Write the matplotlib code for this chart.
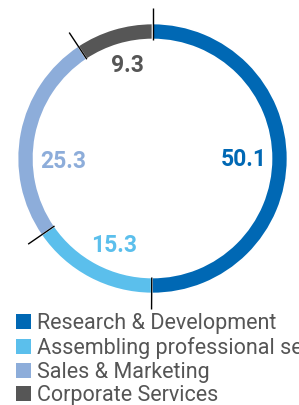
import numpy as np
import matplotlib
matplotlib.use("Agg")
import matplotlib.pyplot as plt
from matplotlib.patches import Patch

# Data
categories = ["Research & Development", "Assembling professional services",
              "Sales & Marketing", "Corporate Services"]
values = [50.1, 15.3, 25.3, 9.3]
colors = ["#0068b4", "#5bbfec", "#8dadda", "#565656"]

plt.rcParams["font.family"] = ["Roboto", "DejaVu Sans"]

W, H = 299, 405
fig = plt.figure(figsize=(W / 100, H / 100), dpi=100)
ax = fig.add_axes([0, 0, 1, 1])

cx, cy = 152.5, H - 158.5
r_out = 135
ring = 16

ax.pie(values, colors=colors, startangle=90, counterclock=False,
       center=(cx, cy), radius=r_out,
       wedgeprops=dict(width=ring, edgecolor="white", linewidth=1.2))

# boundary tick lines
bounds = 90 - 360 * np.cumsum([0] + values[:-1]) / sum(values)
for a in np.deg2rad(bounds):
    ax.plot([cx + 119 * np.cos(a), cx + 151 * np.cos(a)],
            [cy + 119 * np.sin(a), cy + 151 * np.sin(a)],
            color="black", lw=1.0, solid_capstyle="butt")

# value labels
label_pos = [(244, 160), (114, 246), (63, 162), (127, 65)]
for v, c, (x, y) in zip(values, colors, label_pos):
    ax.text(x, H - y, f"{v}", color=c, fontsize=16.5, fontweight="bold",
            ha="center", va="center")

ax.set_xlim(0, W)
ax.set_ylim(0, H)
ax.set_aspect("equal")
ax.axis("off")

handles = [Patch(facecolor=c, edgecolor="none") for c in colors]
leg = ax.legend(handles, categories, loc="upper left",
                bbox_to_anchor=(16 / W, 1 - 313 / H), frameon=False,
                fontsize=15.5, handlelength=0.7, handleheight=0.7,
                handletextpad=0.28, labelspacing=0.13, borderaxespad=0,
                borderpad=0)
for t in leg.get_texts():
    t.set_color("#555555")

plt.savefig("out.png", dpi=100)
